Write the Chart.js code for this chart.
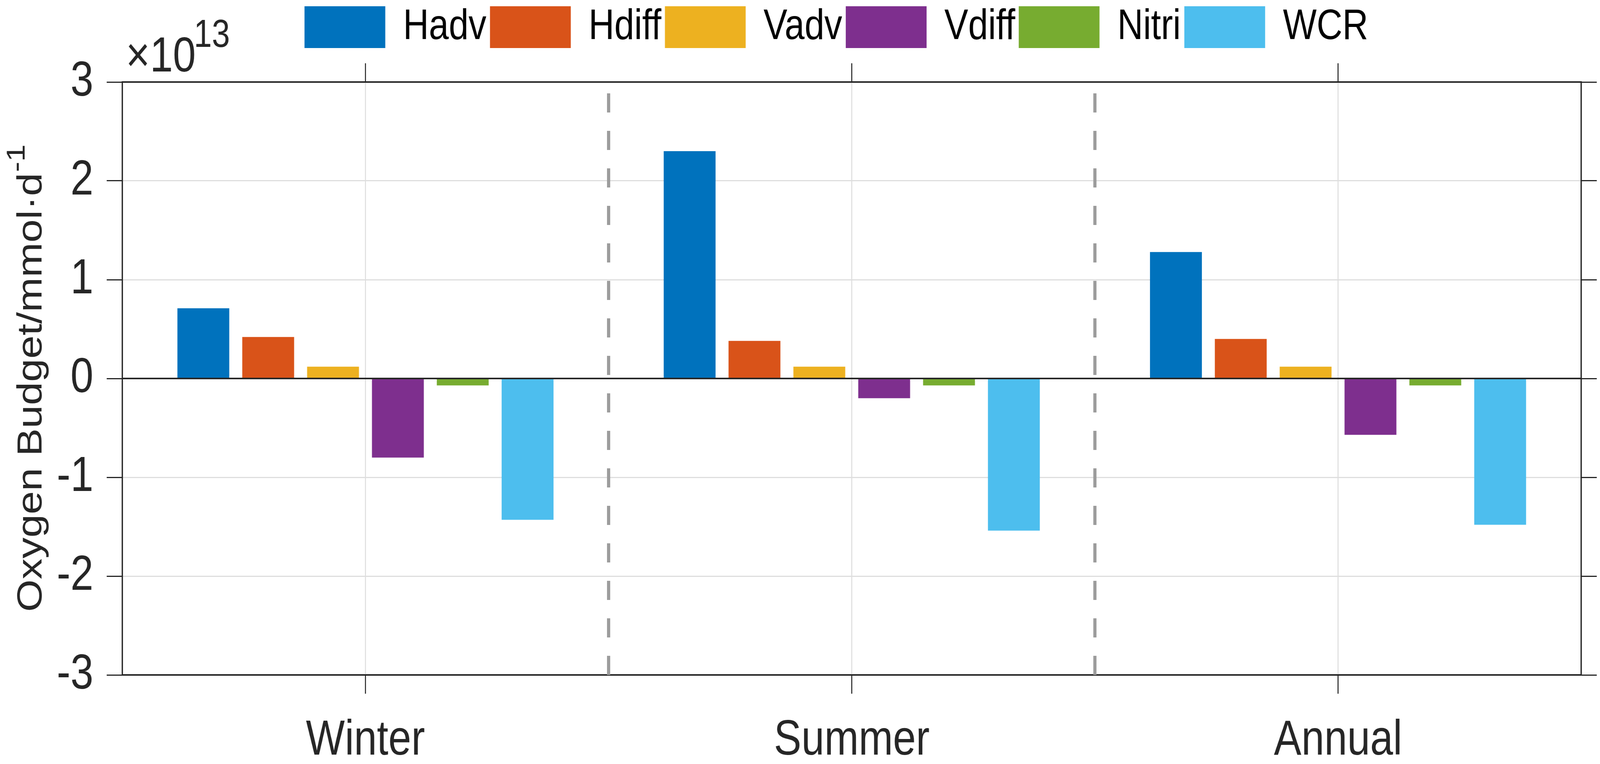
<!DOCTYPE html>
<html>
<head>
<meta charset="utf-8">
<script src="https://cdn.jsdelivr.net/npm/chart.js@4.4.1/dist/chart.umd.min.js"></script>
<style>
  html, body { margin: 0; padding: 0; background: #ffffff; overflow: hidden; }
  canvas { display: block; }
</style>
</head>
<body>
<canvas id="c" width="4932" height="1956" style="width:100vw;height:100vh"></canvas>
<script>
// ---- data (values in units of 10^13 mmol/d) ----
const categories = ['Winter', 'Summer', 'Annual'];
const seriesNames = ['Hadv', 'Hdiff', 'Vadv', 'Vdiff', 'Nitri', 'WCR'];
const hadv  = [0.71, 2.30, 1.28];
const hdiff = [0.42, 0.38, 0.40];
const vadv  = [0.12, 0.12, 0.12];
const vdiff = [-0.80, -0.20, -0.57];
const nitri = [-0.07, -0.07, -0.07];
const wcr   = [-1.43, -1.54, -1.48];
const yTicks = [-3, -2, -1, 0, 1, 2, 3];
const exponentText = ['×10', '13'];
const yTitleMain = 'Oxygen Budget/mmol·d';
const yTitleSup = '-1';

const seriesValues = [hadv, hdiff, vadv, vdiff, nitri, wcr];
const colors = ['#0072BD', '#D95319', '#EDB120', '#7E2F8E', '#77AC30', '#4DBEEE'];

const FONT = '"Liberation Sans", Arial, Helvetica, sans-serif';
const AX = '#262626';

const separatorPlugin = {
  id: 'separators',
  afterLayout(chart) {
    const lg = chart.legend;
    if (lg) { lg.left += 112; lg.right += 112; }
  },
  beforeDatasetsDraw(chart) {
    const xs = chart.scales.x, ys = chart.scales.y;
    const ctx = chart.ctx;
    ctx.save();
    ctx.strokeStyle = '#9c9c9c';
    ctx.lineWidth = 10;
    ctx.setLineDash([49, 47]);
    for (let i = 0; i < categories.length - 1; i++) {
      const x = xs.getPixelForValue(i + 0.5);
      ctx.beginPath();
      ctx.moveTo(x, ys.getPixelForValue(yTicks[0]));
      ctx.lineTo(x, ys.getPixelForValue(yTicks[yTicks.length - 1]));
      ctx.stroke();
    }
    ctx.restore();
  },
  afterDatasetsDraw(chart) {
    const ys = chart.scales.y, a = chart.chartArea, ctx = chart.ctx;
    const y0 = ys.getPixelForValue(0);
    ctx.save();
    ctx.strokeStyle = AX;
    ctx.lineWidth = 4;
    ctx.beginPath();
    ctx.moveTo(a.left, y0);
    ctx.lineTo(a.right, y0);
    ctx.stroke();
    ctx.restore();
  },
  afterDraw(chart) {
    const ctx = chart.ctx, a = chart.chartArea;
    ctx.save();
    ctx.fillStyle = AX;
    ctx.textBaseline = 'alphabetic';
    ctx.textAlign = 'left';
    // exponent label
    ctx.font = '127px ' + FONT;
    const ex = a.left + 11;
    ctx.fillText(exponentText[0], ex, a.top - 27);
    const w = ctx.measureText(exponentText[0]).width;
    ctx.font = '100px ' + FONT;
    ctx.fillText(exponentText[1], ex + w - 6, a.top - 90);
    // y title
    const mainSize = 107, supSize = 80;
    ctx.font = mainSize + 'px ' + FONT;
    const wm = ctx.measureText(yTitleMain).width;
    ctx.font = supSize + 'px ' + FONT;
    const ws = ctx.measureText(yTitleSup).width;
    const total = wm + ws;
    const cy = (a.top + a.bottom) / 2;
    ctx.translate(128, cy);
    ctx.rotate(-Math.PI / 2);
    ctx.font = mainSize + 'px ' + FONT;
    ctx.fillText(yTitleMain, -total / 2, 0);
    ctx.font = supSize + 'px ' + FONT;
    ctx.fillText(yTitleSup, -total / 2 + wm + 2, -52);
    ctx.restore();
  }
};

const datasets = seriesNames.map((name, i) => ({
  label: name,
  data: seriesValues[i],
  backgroundColor: colors[i],
  borderWidth: 0,
  categoryPercentage: 0.8,
  barPercentage: 0.8
}));

new Chart(document.getElementById('c'), {
  type: 'bar',
  data: { labels: categories, datasets },
  plugins: [separatorPlugin],
  options: {
    responsive: false,
    animation: false,
    devicePixelRatio: 1,
    layout: { padding: { left: 0, right: 0, top: 3.5, bottom: 0 } },
    plugins: {
      legend: {
        position: 'top',
        labels: {
          font: { family: FONT, size: 110 },
          color: '#000000',
          boxWidth: 249,
          boxHeight: 107,
          padding: 11
        }
      },
      tooltip: { enabled: false }
    },
    scales: {
      x: {
        type: 'category',
        position: 'bottom',
        offset: true,
        grid: { offset: false, color: '#dedede', lineWidth: 3, tickLength: 48, tickColor: AX, tickWidth: 3 },
        border: { color: AX, width: 4 },
        ticks: { font: { family: FONT, size: 127 }, color: AX, padding: 45, maxRotation: 0 },
        afterFit(s) { s.height = 228; }
      },
      xTop: {
        type: 'category',
        position: 'top',
        labels: categories,
        offset: true,
        grid: { offset: false, drawOnChartArea: false, tickLength: 48, tickColor: AX, tickWidth: 3 },
        border: { color: AX, width: 4 },
        ticks: { display: false },
        afterFit(s) { s.height = 75.5; }
      },
      y: {
        type: 'linear',
        position: 'left',
        min: yTicks[0],
        max: yTicks[yTicks.length - 1],
        grid: { color: '#dedede', lineWidth: 3, tickLength: 48, tickColor: AX, tickWidth: 3 },
        border: { color: AX, width: 4 },
        ticks: { stepSize: 1, font: { family: FONT, size: 127 }, color: AX, padding: 41,
          callback: (v) => String(v) },
        afterFit(s) { s.width = 377; }
      },
      yRight: {
        type: 'linear',
        position: 'right',
        min: yTicks[0],
        max: yTicks[yTicks.length - 1],
        grid: { drawOnChartArea: false, tickLength: 48, tickColor: AX, tickWidth: 3 },
        border: { color: AX, width: 4 },
        ticks: { stepSize: 1, display: false },
        afterFit(s) { s.width = 58; }
      }
    }
  }
});
</script>
</body>
</html>
